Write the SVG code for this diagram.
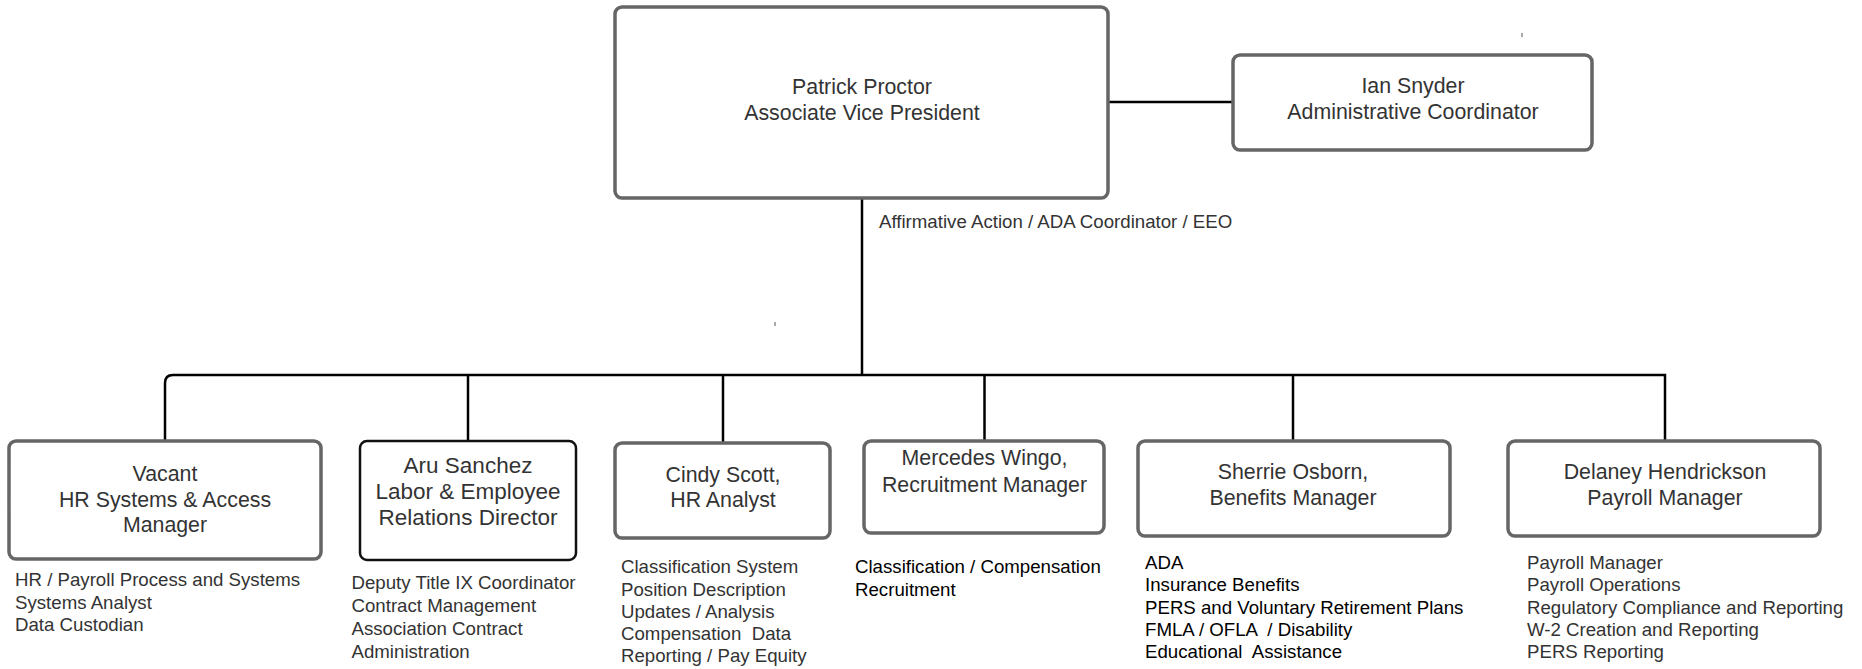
<svg xmlns="http://www.w3.org/2000/svg" width="1862" height="669" viewBox="0 0 1862 669">
<style>
.box{fill:#fff;stroke:#666;stroke-width:3.5}
.boxd{fill:#fff;stroke:#111;stroke-width:2.5}
.t{font-family:"Liberation Sans",Arial,sans-serif;font-size:21.33px;fill:#333;text-anchor:middle}
.d{font-family:"Liberation Sans",Arial,sans-serif;font-size:18.67px;fill:#333;white-space:pre}
.k{fill:#000}
.c{fill:none;stroke:#000;stroke-width:2.5}
</style>
<rect width="1862" height="669" fill="#fff"/>
<g id="connectors">
<path class="c" d="M1109 102 H1232"/>
<path class="c" d="M862 198 V375"/>
<path class="c" d="M165 440 V383 Q165 375 173 375 H1665 V440"/>
<path class="c" d="M468 375 V440"/>
<path class="c" d="M723 375 V442"/>
<path class="c" d="M984.5 375 V440"/>
<path class="c" d="M1293 375 V440"/>
</g>
<g id="patrick">
<rect class="box" x="615" y="7" width="493" height="191" rx="7"/>
<text class="t" x="862" y="94">Patrick Proctor</text>
<text class="t" x="862" y="120">Associate Vice President</text>
</g>
<g id="ian">
<rect class="box" x="1233" y="55" width="359" height="95" rx="7"/>
<text class="t" x="1413" y="92.5">Ian Snyder</text>
<text class="t" x="1413" y="118.5">Administrative Coordinator</text>
</g>
<g id="affirmative">
<text class="d" x="879" y="227.5">Affirmative Action / ADA Coordinator / EEO</text>
</g>
<g id="vacant">
<rect class="box" x="9" y="441" width="312" height="118" rx="7"/>
<text class="t" x="165" y="481">Vacant</text>
<text class="t" x="165" y="506.5">HR Systems &amp; Access</text>
<text class="t" x="165" y="532">Manager</text>
<text class="d" x="15" y="586">HR / Payroll Process and Systems</text>
<text class="d" x="15" y="608.5">Systems Analyst</text>
<text class="d" x="15" y="631">Data Custodian</text>
</g>
<g id="aru">
<rect class="boxd" x="360" y="441" width="216" height="119" rx="7"/>
<text class="t" x="468" y="473" style="font-size:22.5px">Aru Sanchez</text>
<text class="t" x="468" y="499" style="font-size:22.5px">Labor &amp; Employee</text>
<text class="t" x="468" y="525" style="font-size:22.5px">Relations Director</text>
<text class="d" x="351.5" y="589">Deputy Title IX Coordinator</text>
<text class="d" x="351.5" y="612">Contract Management</text>
<text class="d" x="351.5" y="635">Association Contract</text>
<text class="d" x="351.5" y="658">Administration</text>
</g>
<g id="cindy">
<rect class="box" x="615" y="443" width="215" height="95" rx="7"/>
<text class="t" x="723" y="482">Cindy Scott,</text>
<text class="t" x="723" y="507">HR Analyst</text>
<text class="d" x="621" y="573">Classification System</text>
<text class="d" x="621" y="595.5">Position Description</text>
<text class="d" x="621" y="618">Updates / Analysis</text>
<text class="d" x="621" y="640">Compensation  Data</text>
<text class="d" x="621" y="662">Reporting / Pay Equity</text>
</g>
<g id="mercedes">
<rect class="box" x="864" y="441" width="240" height="92" rx="7"/>
<text class="t" x="984.5" y="465">Mercedes Wingo,</text>
<text class="t" x="984.5" y="491.5">Recruitment Manager</text>
<text class="d k" x="855" y="573">Classification / Compensation</text>
<text class="d k" x="855" y="595.5">Recruitment</text>
</g>
<g id="sherrie">
<rect class="box" x="1138" y="441" width="312" height="95" rx="7"/>
<text class="t" x="1293" y="478.5">Sherrie Osborn,</text>
<text class="t" x="1293" y="504.5">Benefits Manager</text>
<text class="d k" x="1145" y="568.5">ADA</text>
<text class="d k" x="1145" y="591">Insurance Benefits</text>
<text class="d k" x="1145" y="613.5">PERS and Voluntary Retirement Plans</text>
<text class="d k" x="1145" y="636">FMLA / OFLA  / Disability</text>
<text class="d k" x="1145" y="658">Educational  Assistance</text>
</g>
<g id="delaney">
<rect class="box" x="1508" y="441" width="312" height="95" rx="7"/>
<text class="t" x="1665" y="478.5">Delaney Hendrickson</text>
<text class="t" x="1665" y="504.5">Payroll Manager</text>
<text class="d" x="1527" y="568.5">Payroll Manager</text>
<text class="d" x="1527" y="591">Payroll Operations</text>
<text class="d" x="1527" y="613.5">Regulatory Compliance and Reporting</text>
<text class="d" x="1527" y="636">W-2 Creation and Reporting</text>
<text class="d" x="1527" y="658">PERS Reporting</text>
</g>
<g id="marks">
<rect x="1521.5" y="33" width="1" height="4" fill="#555"/>
<rect x="774.5" y="322" width="1" height="4" fill="#555"/>
</g>
</svg>
